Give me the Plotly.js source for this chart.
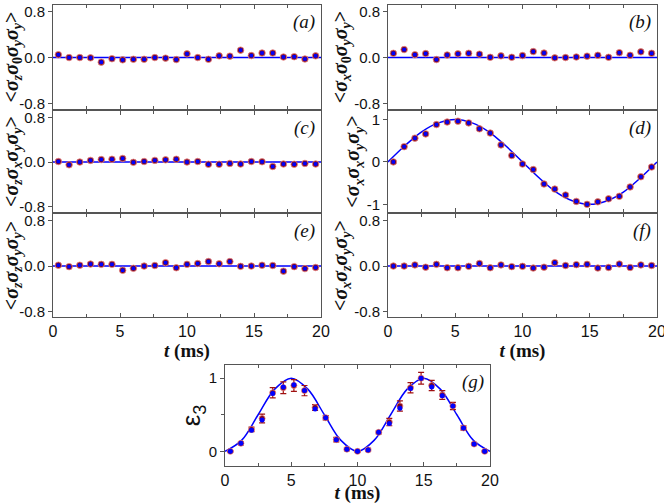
<!DOCTYPE html>
<html>
<head>
<meta charset="utf-8">
<script src="https://cdn.plot.ly/plotly-3.0.1.min.js"></script>
<style>
  html, body { margin:0; padding:0; background:#fff; }
  #chartdiv { width:664px; height:504px; }
</style>
</head>
<body>
<div id="chartdiv"></div>
<script>
// measurement times (ms)
const t = [0.4,1.2,2.0,2.8,3.6,4.4,5.2,6.0,6.8,7.6,8.4,9.2,10.0,10.8,11.6,12.4,13.2,14.0,14.8,15.6,16.4,17.2,18.0,18.8,19.6];

// (a) <sz s0 sy sy>
const valA = [0.05,0.0,0.0,-0.005,-0.08,-0.02,-0.04,-0.03,-0.03,0.0,-0.01,-0.035,0.065,0.0,-0.03,0.03,0.025,0.13,0.035,0.08,0.08,0.01,0.015,-0.025,0.03];
// (b) <sx s0 sy sy>
const valB = [0.075,0.14,0.05,0.07,-0.035,0.045,0.065,0.075,0.06,0.005,0.03,0.005,0.035,0.105,0.08,-0.005,0.0,0.01,0.025,0.04,0.005,0.085,0.04,0.1,0.075];
// (c) <sz sx sy sy>
const valC = [0.01,-0.05,0.0,0.03,0.045,0.05,0.065,-0.005,0.01,0.03,0.04,0.05,0.0,0.01,-0.04,-0.04,-0.025,-0.035,0.01,0.005,-0.08,-0.035,-0.04,-0.025,-0.035];
// (d) <sx sx sy sy>
const valD = [0.0,0.36,0.56,0.66,0.88,0.94,0.96,0.92,0.78,0.68,0.40,0.15,-0.05,-0.18,-0.52,-0.64,-0.78,-0.93,-1.0,-0.94,-0.87,-0.81,-0.59,-0.35,-0.12];
// (e) <sz sz sy sy>
const valE = [0.015,-0.01,0.015,0.035,0.03,0.03,-0.075,-0.04,0.0,0.01,0.06,-0.03,0.03,0.045,0.08,0.04,0.08,-0.005,0.0,0.015,0.01,-0.09,-0.01,-0.045,-0.025];
// (f) <sx sz sy sy>
const valF = [0.0,0.0,0.02,-0.02,0.03,-0.03,-0.03,-0.005,0.045,-0.03,0.02,-0.01,-0.005,-0.035,-0.02,0.06,0.01,0.025,0.03,-0.035,-0.025,0.035,-0.025,0.02,0.01];

// (g) entanglement measure E3
const redG  = [0.0,0.11,0.30,0.45,0.80,0.87,0.90,0.83,0.60,0.46,0.16,0.03,0.0,0.02,0.26,0.40,0.62,0.87,1.0,0.90,0.77,0.62,0.32,0.10,0.0];
const errG  = [0.01,0.02,0.03,0.06,0.07,0.08,0.08,0.07,0.04,0.03,0.03,0.02,0.01,0.02,0.02,0.05,0.07,0.07,0.08,0.07,0.06,0.05,0.03,0.02,0.01];
const blueG = [0.0,0.11,0.29,0.43,0.79,0.88,0.91,0.83,0.58,0.46,0.16,0.03,0.0,0.02,0.26,0.38,0.59,0.86,1.0,0.88,0.76,0.62,0.32,0.10,0.0];

// theory curves
const thT = [0,1.25,2.5,3.75,5,6.25,7.5,8.75,10,11.25,12.5,13.75,15,16.25,17.5,18.75,20];
const thD = [0,0.38,0.71,0.92,1,0.92,0.71,0.38,0,-0.38,-0.71,-0.92,-1,-0.92,-0.71,-0.38,0];
const thG = [0,0.15,0.5,0.85,1,0.85,0.5,0.15,0,0.15,0.5,0.85,1,0.85,0.5,0.15,0];
const thZeroT = [0,20];
const thZero = [0,0];

const W = 664, H = 504;
const red = '#7a0a1e';
const blue = 'rgb(0,0,255)';
const frame = '#555';
const serif = 'Liberation Serif';

// panel boxes in pixels: [left, right, top, bottom]
const boxes = [
  [53,321,5,109],   [388,657,5,109],
  [53,321,111,212], [388,657,111,212],
  [53,321,214,317], [388,657,214,317],
  [225,490,365,466]
];
const labels = ['(a)','(b)','(c)','(d)','(e)','(f)','(g)'];
const ytitles = [
  '<b>&lt;<i>σ<sub>z</sub>σ</i><sub>0</sub><i>σ<sub>y</sub>σ<sub>y</sub></i>&gt;</b>',
  '<b>&lt;<i>σ<sub>x</sub>σ</i><sub>0</sub><i>σ<sub>y</sub>σ<sub>y</sub></i>&gt;</b>',
  '<b>&lt;<i>σ<sub>z</sub>σ<sub>x</sub>σ<sub>y</sub>σ<sub>y</sub></i>&gt;</b>',
  '<b>&lt;<i>σ<sub>x</sub>σ<sub>x</sub>σ<sub>y</sub>σ<sub>y</sub></i>&gt;</b>',
  '<b>&lt;<i>σ<sub>z</sub>σ<sub>z</sub>σ<sub>y</sub>σ<sub>y</sub></i>&gt;</b>',
  '<b>&lt;<i>σ<sub>x</sub>σ<sub>z</sub>σ<sub>y</sub>σ<sub>y</sub></i>&gt;</b>',
  'ε<sub>3</sub>'
];
const vals = [valA,valB,valC,valD,valE,valF];

const data = [];
const layout = {
  width: W, height: H,
  margin: {l:0, r:0, t:0, b:0},
  paper_bgcolor: '#fff',
  plot_bgcolor: '#fff',
  showlegend: false,
  font: {family:'Liberation Sans, Arial, sans-serif', size:15, color:'#111'},
  annotations: []
};

for (let i = 0; i < 7; i++){
  const n = i + 1;
  const xa = 'x' + (i==0 ? '' : n);
  const ya = 'y' + (i==0 ? '' : n);
  const b = boxes[i];

  // theory line
  if (i == 3) data.push({x:thT, y:thD, xaxis:xa, yaxis:ya, mode:'lines', line:{color:blue, width:1.5, shape:'spline'}});
  else if (i == 6) data.push({x:thT, y:thG, xaxis:xa, yaxis:ya, mode:'lines', line:{color:blue, width:1.5, shape:'spline'}});
  else data.push({x:thZeroT, y:thZero, xaxis:xa, yaxis:ya, mode:'lines', line:{color:blue, width:1.5}});

  if (i < 6){
    data.push({x:t, y:vals[i], xaxis:xa, yaxis:ya, mode:'markers',
      marker:{color:red, size:6.5, line:{color:'rgba(235,130,130,0.8)', width:1}},
      error_y:{type:'constant', value:0.03, color:red, thickness:1, width:2}});
    data.push({x:t, y:vals[i], xaxis:xa, yaxis:ya, mode:'markers',
      marker:{color:blue, size:3.5, symbol:'square'}});
  } else {
    data.push({x:t, y:redG, xaxis:xa, yaxis:ya, mode:'markers',
      marker:{color:red, size:6, line:{color:'rgba(235,130,130,0.8)', width:1}},
      error_y:{type:'data', array:errG, color:'#a01010', thickness:1.2, width:3}});
    data.push({x:t, y:blueG, xaxis:xa, yaxis:ya, mode:'markers',
      marker:{color:blue, size:5}});
  }

  const showX = (i >= 4);
  layout['xaxis' + (i==0 ? '' : n)] = {
    anchor: ya,
    domain: [b[0]/W, b[1]/W],
    range: [0,20],
    tickvals: [0,5,10,15,20],
    showticklabels: showX,
    ticklabeloverflow: 'allow',
    ticks: 'inside', ticklen: 4, tickcolor: frame,
    minor: {dtick:2.5, ticks:'inside', ticklen:3, tickcolor: frame},
    showline: true, linecolor: frame, linewidth: 1, mirror: 'ticks',
    showgrid: false, zeroline: false,
    tickfont: {size:16},
    title: showX ? {text:'<b><i>t</i> (ms)</b>', standoff:0, font:{family:serif, size:19}} : {text:''}
  };

  let yrange, tv, tt;
  if (i == 3){ yrange = [-1.18,1.2]; tv = [-1,0,1]; tt = ['-1','0','1']; }
  else if (i == 6){ yrange = [-0.2,1.18]; tv = [0,1]; tt = ['0','1']; }
  else { yrange = [-0.9,0.92]; tv = [-0.8,0,0.8]; tt = ['-0.8','0.0','0.8']; }

  layout['yaxis' + (i==0 ? '' : n)] = {
    anchor: xa,
    domain: [1 - b[3]/H, 1 - b[2]/H],
    range: yrange,
    tickvals: tv, ticktext: tt,
    ticks: 'outside', ticklen: 4, tickcolor: frame,
    minor: i == 6 ? {tickvals:[0.5], ticks:'outside', ticklen:3, tickcolor:frame} : undefined,
    showline: true, linecolor: frame, linewidth: 1, mirror: true,
    showgrid: false, zeroline: false,
    tickfont: {size:15},
    title: {
      text: ytitles[i], standoff: 0,
      font: i == 6 ? {family:'Liberation Sans, Arial, sans-serif', size:26} : {family:serif, size:20}
    }
  };

  layout.annotations.push({
    text: '<i>' + labels[i] + '</i>',
    xref: xa + ' domain', yref: ya + ' domain',
    x: 0.985, y: 0.96, xanchor: 'right', yanchor: 'top',
    showarrow: false,
    font: {family:serif, size:19, color:'#111'}
  });
}

Plotly.newPlot('chartdiv', data, layout, {staticPlot:true});
</script>
</body>
</html>
